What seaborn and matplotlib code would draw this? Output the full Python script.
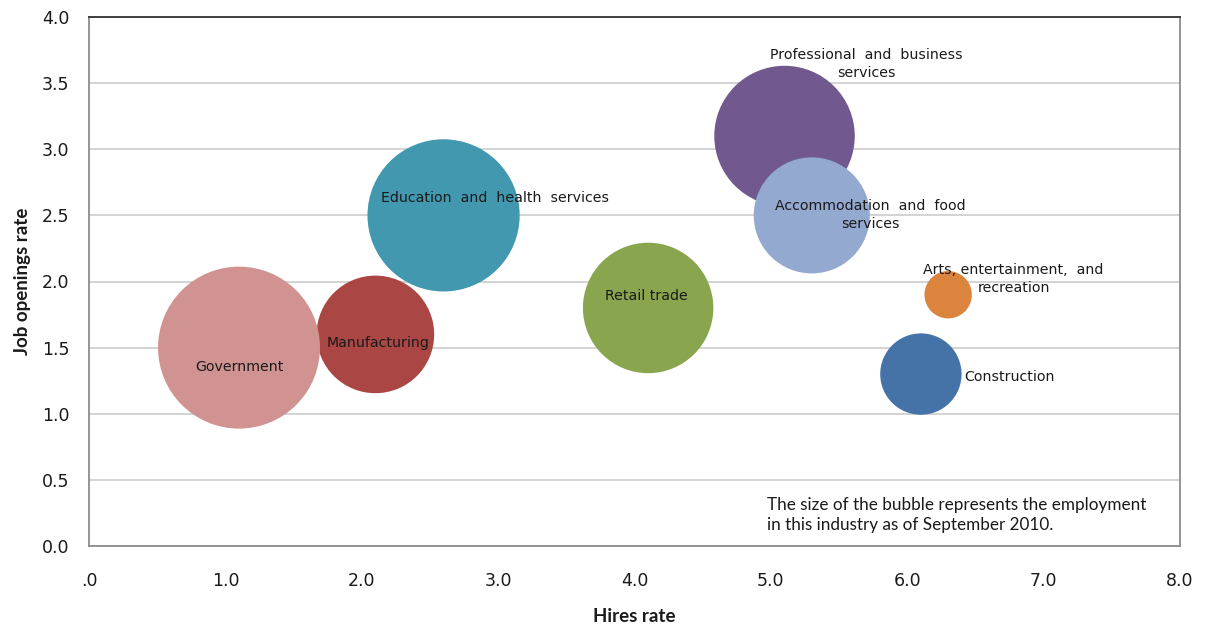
import matplotlib
matplotlib.use("Agg")
import matplotlib.pyplot as plt
from matplotlib.colors import Normalize
import seaborn as sns
import pandas as pd

# ---- data ----
industries = ["Manufacturing", "Education and health services", "Retail trade",
              "Professional and business services", "Accommodation and food services",
              "Construction", "Arts, entertainment, and recreation", "Government"]
labels = ["Manufacturing", "Education  and  health  services", "Retail trade",
          "Professional  and  business\nservices", "Accommodation  and  food\nservices",
          "Construction", "Arts, entertainment,  and\nrecreation", "Government"]
hires_rate = [2.1, 2.6, 4.1, 5.1, 5.3, 6.1, 6.3, 1.1]
job_openings_rate = [1.6, 2.5, 1.8, 3.1, 2.5, 1.3, 1.9, 1.5]
employment = [11.7, 19.6, 14.4, 16.7, 11.4, 5.6, 1.9, 22.2]  # millions, Sept 2010
colors = ["#AA4643", "#4198AF", "#89A54E", "#71588F", "#93A9CF",
          "#4572A7", "#DB843D", "#D19392"]
x_tick_values = [0, 1, 2, 3, 4, 5, 6, 7, 8]
x_tick_labels = [".0", "1.0", "2.0", "3.0", "4.0", "5.0", "6.0", "7.0", "8.0"]
y_tick_values = [0, 0.5, 1, 1.5, 2, 2.5, 3, 3.5, 4]
y_tick_labels = ["0.0", "0.5", "1.0", "1.5", "2.0", "2.5", "3.0", "3.5", "4.0"]

# label placement (offsets in data units from bubble center) and alignment
label_dx = [0.02, 0.38, -0.01, 0.60, 0.43, 0.32, 0.48, 0.0]
label_dy = [-0.065, 0.13, 0.09, 0.545, 0.0, -0.02, 0.12, -0.15]
label_ha = ["center", "center", "center", "center", "center", "left", "center", "center"]

df = pd.DataFrame({"industry": industries, "hires": hires_rate,
                   "openings": job_openings_rate, "employment": employment})

sns.set_theme(style="white")
plt.rcParams["font.family"] = ["DejaVu Sans"]

fig = plt.figure(figsize=(12.06, 6.27), dpi=100)
ax = fig.add_axes([89 / 1206, 1 - 546 / 627, (1180 - 89) / 1206, (546 - 17) / 627])

max_emp = max(employment)
smax = 13600.0
sns.scatterplot(data=df, x="hires", y="openings", hue="industry",
                palette=dict(zip(industries, colors)),
                size="employment", sizes=(0, smax), size_norm=Normalize(0, max_emp),
                legend=False, edgecolor="none", linewidth=0, alpha=1, ax=ax, zorder=3)

for i in range(len(industries)):
    ax.text(hires_rate[i] + label_dx[i], job_openings_rate[i] + label_dy[i], labels[i],
            ha=label_ha[i], va="center", fontsize=10.2, color="#1a1a1a",
            linespacing=1.35, zorder=4)

ax.set_xlim(0, 8)
ax.set_ylim(0, 4)
ax.set_xticks(x_tick_values)
ax.set_xticklabels(x_tick_labels)
ax.set_yticks(y_tick_values)
ax.set_yticklabels(y_tick_labels)
ax.tick_params(axis="x", length=0, pad=18.5, labelsize=12.5, labelcolor="#1a1a1a")
ax.tick_params(axis="y", length=0, pad=14, labelsize=12.5, labelcolor="#1a1a1a")

ax.yaxis.grid(True, color="#D0D0D0", linewidth=1.3, zorder=0)
ax.xaxis.grid(False)
ax.set_axisbelow(True)
for side in ["left", "bottom", "right"]:
    ax.spines[side].set_color("#8C8C8C")
    ax.spines[side].set_linewidth(1.3)
ax.spines["top"].set_color("#333333")
ax.spines["top"].set_linewidth(1.3)

ax.set_xlabel("Hires rate", fontsize=13.5, fontweight="bold", family=["Lato", "DejaVu Sans"],
              color="#1a1a1a", labelpad=13)
ax.set_ylabel("Job openings rate", fontsize=13.5, fontweight="bold", family=["Lato", "DejaVu Sans"],
              color="#1a1a1a", labelpad=8)

fig.text(767 / 1206, 1 - 515 / 627,
         "The size of the bubble represents the employment\nin this industry as of September 2010.",
         ha="left", va="center", fontsize=12.3, family=["Lato", "DejaVu Sans"],
         color="#1a1a1a", linespacing=1.3)

fig.savefig("out.png", dpi=100)
